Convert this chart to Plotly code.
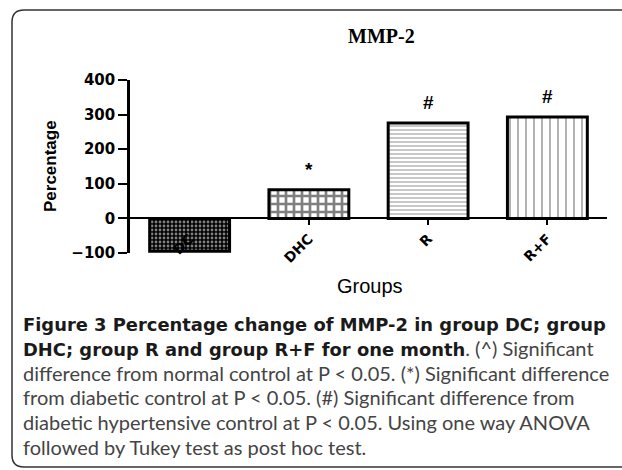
import plotly.graph_objects as go

# ---- data ----
groups = ["DC", "DHC", "R", "R+F"]
percent_change = [-95, 83, 276, 293]
sig_marks = ["^", "*", "#", "#"]
y_ticks = [-100, 0, 100, 200, 300, 400]

BOLD = '<span style="font-family:\'DejaVu Sans\';font-weight:bold;font-size:17.9px;fill:#1a1a1a">'
REG = '<span style="font-size:20px">'
caption_lines = [
    BOLD + "Figure 3 Percentage change of MMP-2 in group DC; group</span>",
    BOLD + "DHC; group R and group R+F for one month</span>" + REG + ". (^) Significant</span>",
    REG + "difference from normal control at P &lt; 0.05. (*) Significant difference</span>",
    REG + "from diabetic control at P &lt; 0.05. (#) Significant difference from</span>",
    REG + "diabetic hypertensive control at P &lt; 0.05. Using one way ANOVA</span>",
    REG + "followed by Tukey test as post hoc test.</span>",
]

W, H = 622, 470
L, R, T, B = 130, 15, 80, 217
PW, PH = W - L - R, H - T - B


def px(x):
    return (x - L) / PW


def py(y):
    return (H - B - y) / PH


patterns = [
    dict(shape=".", bgcolor="black", fgcolor="white", size=4, solidity=0.4),
    dict(shape="+", bgcolor="white", fgcolor="black", size=8, solidity=0.55),
    dict(shape="-", bgcolor="white", fgcolor="#444", size=4, solidity=0.3),
    dict(shape="|", bgcolor="white", fgcolor="black", size=8, solidity=0.15),
]

fig = go.Figure()
for g, v, p in zip(groups, percent_change, patterns):
    fig.add_trace(go.Bar(
        x=[g], y=[v], width=0.67,
        marker=dict(color="white", pattern=p, line=dict(color="black", width=3)),
        showlegend=False,
    ))

# significance marks
for g, v, m in zip(groups, percent_change, sig_marks):
    off = 58 if v >= 0 else -62
    fig.add_annotation(x=g, y=v + off, text=m, showarrow=False,
                       xanchor="center", yanchor="middle",
                       font=dict(family="Liberation Sans", size=19, color="black", weight="bold"))

fig.update_layout(
    width=W, height=H,
    margin=dict(l=L, r=R, t=T, b=B),
    paper_bgcolor="white", plot_bgcolor="white",
    bargap=0.33,
    barmode="overlay",
    xaxis=dict(
        type="category", categoryorder="array", categoryarray=groups,
        range=[-0.5, 3.5], anchor="free", position=0.2,
        showline=True, linecolor="black", linewidth=1.5,
        ticks="outside", ticklen=6, tickwidth=2, tickcolor="black",
        tickangle=-45, showgrid=False,
        tickfont=dict(family="DejaVu Sans", size=14, color="black", weight="bold"),
    ),
    yaxis=dict(
        range=[-100, 400], tickvals=y_ticks, showgrid=False, zeroline=False,
        showline=True, linecolor="black", linewidth=2.5,
        ticks="outside", ticklen=9, tickwidth=2, tickcolor="black",
        tickfont=dict(family="DejaVu Sans", size=15, color="black", weight="bold"),
    ),
)

# title
fig.add_annotation(xref="paper", yref="paper", x=px(381), y=py(36), text="<b>MMP-2</b>",
                   xanchor="center", yanchor="middle", showarrow=False,
                   font=dict(family="Liberation Serif", size=20, color="black"))
# axis titles
fig.add_annotation(xref="paper", yref="paper", x=px(50), y=py(166), text="<b>Percentage</b>",
                   xanchor="center", yanchor="middle", textangle=-90, showarrow=False,
                   font=dict(family="Liberation Sans", size=17, color="black"))
fig.add_annotation(xref="paper", yref="paper", x=px(370), y=py(286), text="Groups",
                   xanchor="center", yanchor="middle", showarrow=False,
                   font=dict(family="Liberation Sans", size=20, color="black"))

# caption (single block, line pitch ~25px)
fig.add_annotation(xref="paper", yref="paper", x=px(21), y=py(386),
                   xanchor="left", yanchor="middle", align="left",
                   text="<br>".join(caption_lines), showarrow=False,
                   font=dict(family="Lato", size=19.1, color="#444"))

# rounded border
x0, y0, x1, y1, r = px(12), py(10), px(660), py(467), 12
rx, ry = r / PW, r / PH
path = (f"M {x0} {y0 - ry} Q {x0} {y0} {x0 + rx} {y0} L {x1} {y0} L {x1} {y1} "
        f"L {x0 + rx} {y1} Q {x0} {y1} {x0} {y1 + ry} Z")
fig.add_shape(type="path", xref="paper", yref="paper", path=path,
              line=dict(color="#333", width=1.5))

fig.write_html("out.html", config={"displayModeBar": False},
               post_script="document.body.style.margin='0';document.body.style.overflow='hidden';")
